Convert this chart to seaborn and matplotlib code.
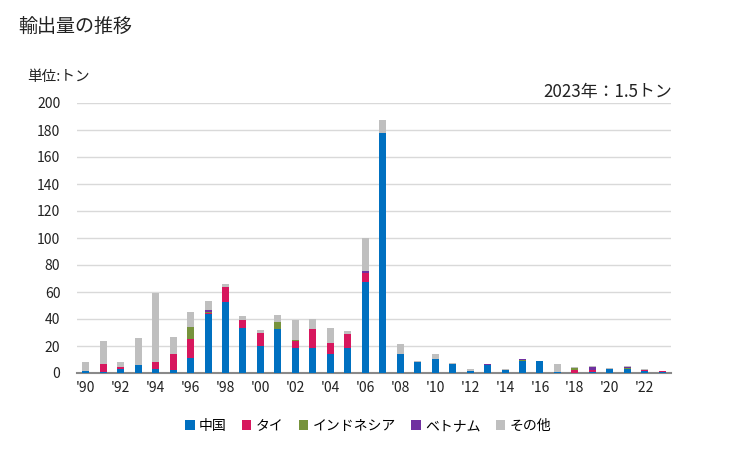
import matplotlib
matplotlib.use("Agg")
import matplotlib.pyplot as plt
from matplotlib.patches import Patch
import seaborn as sns
import numpy as np
import pandas as pd

years = list(range(1990, 2024))
china = [1.7, 1.0, 3.0, 5.9, 3.0, 2.5, 11.0, 44.0, 52.8, 33.6,
         20.2, 32.6, 18.8, 18.8, 14.3, 18.8, 67.6, 177.5, 14.1, 8.1,
         10.4, 6.9, 1.5, 5.7, 2.0, 8.9, 8.9, 0.7, 0.0, 0.7,
         3.0, 3.0, 1.5, 1.0]
thai = [0.0, 5.7, 1.5, 0.0, 5.0, 11.6, 14.0, 0.8, 11.0, 5.7,
        9.4, 0.0, 5.0, 13.8, 8.0, 10.0, 6.4, 0.0, 0.0, 0.0,
        0.0, 0.0, 0.0, 0.0, 0.0, 0.0, 0.0, 0.0, 2.2, 1.5,
        0.0, 0.0, 0.7, 0.5]
indonesia = [0.0, 0.0, 0.0, 0.0, 0.0, 0.0, 9.0, 0.7, 0.0, 0.0,
             0.0, 5.2, 0.7, 0.0, 0.0, 0.0, 0.0, 0.0, 0.0, 0.0,
             0.0, 0.0, 0.0, 0.0, 0.0, 0.7, 0.0, 0.0, 1.5, 0.0,
             0.0, 0.7, 0.0, 0.0]
vietnam = [0.0, 0.0, 0.0, 0.0, 0.0, 0.0, 0.0, 0.8, 0.0, 0.0,
           0.0, 0.0, 0.0, 0.0, 0.0, 0.0, 1.5, 0.6, 0.0, 0.0,
           0.0, 0.0, 0.0, 0.7, 0.5, 0.7, 0.0, 0.0, 0.0, 2.2,
           0.0, 0.7, 0.0, 0.0]
other = [6.4, 17.0, 3.7, 20.0, 51.4, 12.6, 11.0, 7.0, 2.2, 3.0,
         2.3, 5.2, 15.0, 7.4, 11.0, 2.2, 24.5, 9.3, 7.4, 0.8,
         3.7, 0.5, 1.5, 0.5, 0.5, 0.0, 0.0, 6.0, 0.7, 0.8,
         0.7, 0.8, 0.8, 0.0]

series_names = ["中国", "タイ", "インドネシア", "ベトナム", "その他"]
series_colors = ["#0070C0", "#D7175E", "#77933C", "#7030A0", "#BFBFBF"]
series_values = [china, thai, indonesia, vietnam, other]

plt.rcParams["font.family"] = ["Noto Sans CJK JP", "DejaVu Sans"]

df = pd.DataFrame({"year": [str(y) for y in years]})
cum = np.zeros(len(years))
cums = []
for vals in series_values:
    cum = cum + np.array(vals)
    cums.append(cum.copy())

fig = plt.figure(figsize=(7.29, 4.5), dpi=100)
ax = fig.add_axes([77 / 729, 1 - 373 / 450, (671 - 77) / 729, (373 - 103) / 450])

# draw cumulative totals from top layer down
for i in reversed(range(len(series_values))):
    d = pd.DataFrame({"year": df["year"], "v": cums[i]})
    sns.barplot(data=d, x="year", y="v", color=series_colors[i], width=0.4,
                saturation=1, ax=ax, errorbar=None, linewidth=0, zorder=3)

ax.set_xlim(-0.5, len(years) - 0.5)
ax.set_ylim(0, 200)
ax.set_yticks(np.arange(0, 201, 20))
ax.set_xticks(range(len(years)))
ax.set_xticklabels(["'" + str(y)[2:] if (y % 2 == 0) else "" for y in years])
ax.set_xlabel("")
ax.set_ylabel("")
ax.grid(axis="y", color="#D9D9D9", linewidth=1, zorder=0)
ax.set_axisbelow(True)
for s in ["top", "right", "left"]:
    ax.spines[s].set_visible(False)
ax.spines["bottom"].set_color("#898989")
ax.spines["bottom"].set_linewidth(1.5)
ax.spines["bottom"].set_zorder(2.5)
ax.tick_params(axis="both", length=0, labelsize=10, colors="#222222")
ax.tick_params(axis="x", pad=6)
ax.tick_params(axis="y", pad=12)

fig.text(18 / 729, 1 - 27 / 450, "輸出量の推移", fontsize=13.7, va="center", ha="left", color="#222222")
fig.text(27 / 729, 1 - 77 / 450, "単位:トン", fontsize=10.5, va="center", ha="left", color="#222222")
fig.text(672 / 729, 1 - 92 / 450, "2023年：1.5トン", fontsize=12.2, va="center", ha="right", color="#222222")

handles = [Patch(facecolor=c, edgecolor="none") for c in series_colors]
fig.legend(handles, series_names, loc="center", bbox_to_anchor=(368 / 729, 1 - 426 / 450),
           ncol=5, frameon=False, fontsize=10, handlelength=0.7, handleheight=0.7,
           handletextpad=0.3, columnspacing=1.1)

fig.savefig("out.png", dpi=100)
